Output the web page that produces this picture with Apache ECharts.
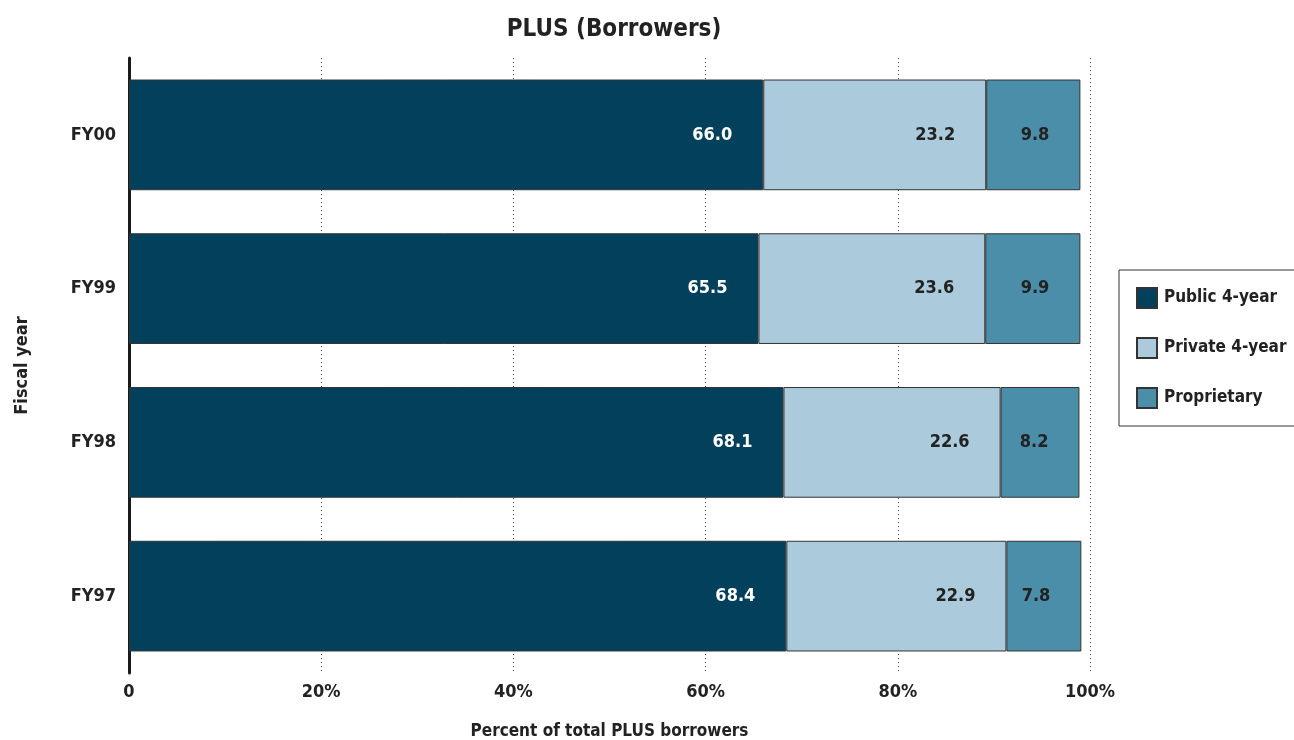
<!DOCTYPE html>
<html>
<head>
<meta charset="utf-8">
<script src="https://cdn.jsdelivr.net/npm/echarts@6/dist/echarts.min.js"></script>
<style>
  html, body { margin: 0; padding: 0; background: #ffffff; }
  #chart { width: 1294px; height: 740px; }
</style>
</head>
<body>
<div id="chart"></div>
<script>
// Share of PLUS borrowers by institution type, per fiscal year
const categories = ['FY97', 'FY98', 'FY99', 'FY00'];
const publicFour = [68.4, 68.1, 65.5, 66.0];
const privateFour = [22.9, 22.6, 23.6, 23.2];
const proprietary = [7.8, 8.2, 9.9, 9.8];
const xTicks = [0, 20, 40, 60, 80, 100];

const FONT = '"Liberation Sans Narrow", "DejaVu Sans Condensed", "Roboto Condensed", sans-serif';
const TEXT = '#222222';

function bar(name, data, color, labelColor) {
  return {
    name: name,
    type: 'bar',
    stack: 'total',
    data: data,
    barCategoryGap: '28%',
    itemStyle: { color: color, borderColor: '#333333', borderWidth: 1 },
    label: {
      show: true,
      position: 'insideRight',
      distance: 31,
      color: labelColor,
      fontFamily: FONT,
      fontWeight: 'bold',
      fontSize: 18,
      formatter: p => p.value.toFixed(1)
    },
    emphasis: { disabled: true }
  };
}

const chart = echarts.init(document.getElementById('chart'), null, { renderer: 'canvas' });
chart.setOption({
  animation: false,
  backgroundColor: '#ffffff',
  textStyle: { fontFamily: FONT, fontWeight: 'bold', color: TEXT },
  title: {
    text: 'PLUS (Borrowers)',
    left: 609,
    textAlign: 'center',
    top: 13,
    textStyle: { fontFamily: FONT, fontWeight: 'bold', fontSize: 24, color: TEXT }
  },
  legend: {
    orient: 'vertical',
    left: 1119,
    top: 270,
    padding: [17, 30, 17, 17],
    itemWidth: 20,
    itemHeight: 20,
    itemGap: 28,
    icon: 'rect',
    borderColor: '#333333',
    borderWidth: 1,
    textStyle: { fontFamily: FONT, fontWeight: 'bold', fontSize: 17, color: TEXT, padding: [0, 0, 0, 2] },
    data: ['Public 4-year', 'Private 4-year', 'Proprietary']
  },
  grid: { left: 129, right: 204, top: 58, bottom: 67, containLabel: false, outerBoundsMode: 'none' },
  xAxis: {
    type: 'value',
    min: 0,
    max: 100,
    interval: 20,
    name: 'Percent of total PLUS borrowers',
    nameLocation: 'middle',
    nameGap: 50,
    nameTextStyle: { fontFamily: FONT, fontWeight: 'bold', fontSize: 17, color: TEXT },
    axisLine: { show: false },
    axisTick: { show: false },
    axisLabel: {
      margin: 10,
      fontFamily: FONT,
      fontWeight: 'bold',
      fontSize: 18,
      color: TEXT,
      formatter: v => (xTicks.includes(v) ? (v === 0 ? '0' : v + '%') : '')
    },
    splitLine: {
      show: true,
      lineStyle: { color: '#444444', type: [1, 3], width: 1 }
    }
  },
  yAxis: {
    type: 'category',
    data: categories,
    name: 'Fiscal year',
    nameLocation: 'middle',
    nameGap: 98,
    nameRotate: 90,
    nameTextStyle: { fontFamily: FONT, fontWeight: 'bold', fontSize: 18, color: TEXT },
    axisLine: { show: true, lineStyle: { color: '#1a1a1a', width: 3 } },
    axisTick: { show: false },
    axisLabel: { margin: 13, fontFamily: FONT, fontWeight: 'bold', fontSize: 18, color: TEXT },
    splitLine: { show: false }
  },
  series: [
    bar('Public 4-year', publicFour, '#03405c', '#ffffff'),
    bar('Private 4-year', privateFour, '#abcadb', TEXT),
    bar('Proprietary', proprietary, '#4a8ea9', TEXT)
  ]
});
</script>
</body>
</html>
